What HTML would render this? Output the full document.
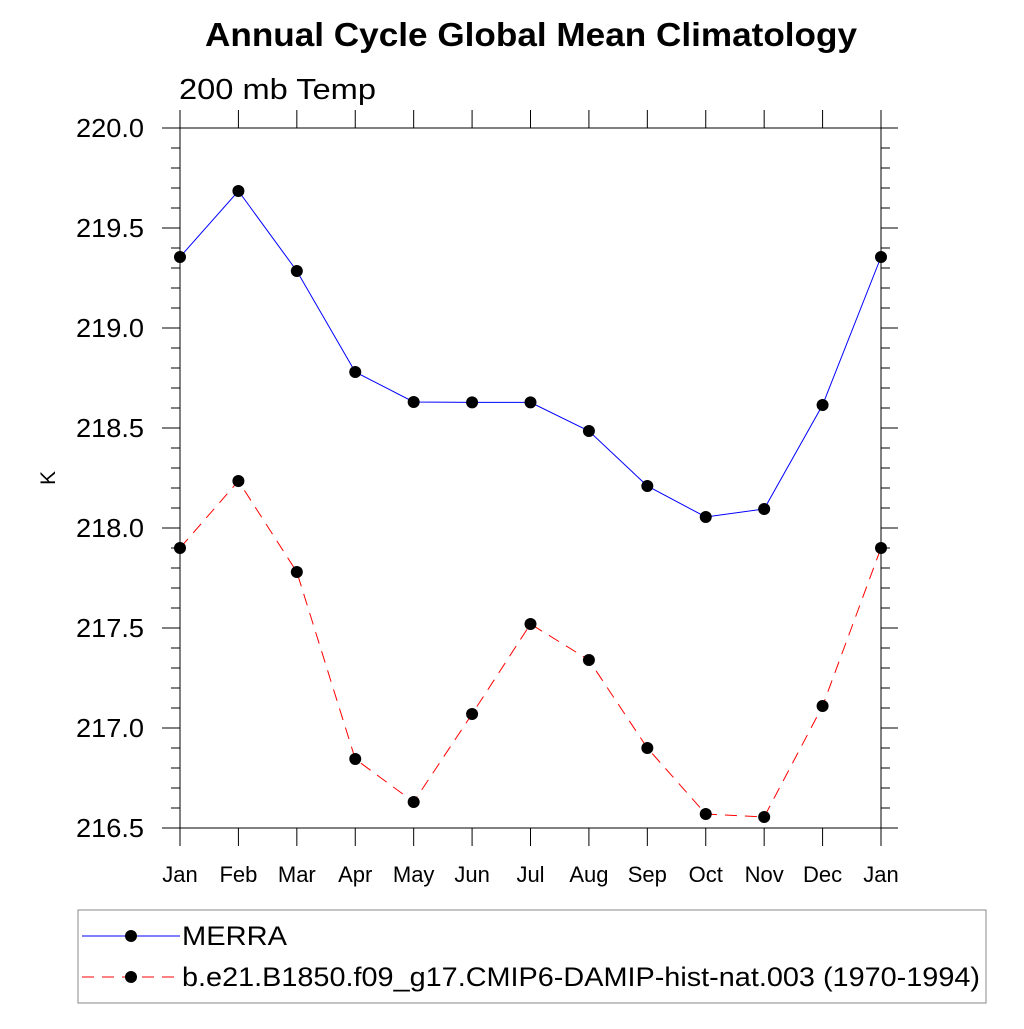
<!DOCTYPE html>
<html><head><meta charset="utf-8"><style>
body{margin:0;background:#fff}
svg{font-family:"Liberation Sans",sans-serif}
</style></head><body>
<svg id="c" width="1024" height="1024" viewBox="0 0 1024 1024">
<text x="205" y="46" textLength="652" lengthAdjust="spacingAndGlyphs" font-size="33" font-weight="bold">Annual Cycle Global Mean Climatology</text>
<text x="179" y="99" textLength="197" lengthAdjust="spacingAndGlyphs" font-size="29">200 mb Temp</text>
<text transform="translate(55,478) rotate(-90)" text-anchor="middle" font-size="21">K</text>
<g id="axes"></g><g id="series"></g>
<rect x="78" y="910" width="908" height="93" fill="none" stroke="#888" stroke-width="1"/>
<g>
<line x1="82" y1="936" x2="180" y2="936" stroke="#00f" stroke-width="1"/>
<circle cx="131" cy="936" r="6" fill="#000"/>
<text x="182" y="945" textLength="105" lengthAdjust="spacingAndGlyphs" font-size="27">MERRA</text></g>
<g>
<line x1="82" y1="977" x2="180" y2="977" stroke="#f00" stroke-width="1" stroke-dasharray="12,8"/>
<circle cx="131" cy="977" r="6" fill="#000"/>
<text x="182" y="986" textLength="798" lengthAdjust="spacingAndGlyphs" font-size="27">b.e21.B1850.f09_g17.CMIP6-DAMIP-hist-nat.003 (1970-1994)</text></g>
</svg>
<script>
const months=["Jan","Feb","Mar","Apr","May","Jun","Jul","Aug","Sep","Oct","Nov","Dec","Jan"];
const merra=[219.355,219.685,219.285,218.78,218.63,218.628,218.628,218.485,218.21,218.055,218.095,218.615,219.355];
const model=[217.90,218.235,217.78,216.845,216.63,217.07,217.52,217.34,216.90,216.57,216.555,217.11,217.90];
const yTicks=["216.5","217.0","217.5","218.0","218.5","219.0","219.5","220.0"];
const NS="http://www.w3.org/2000/svg";
const X=i=>180+i*(881-180)/12, Y=v=>828-(v-216.5)*200;
const ax=document.getElementById('axes'), se=document.getElementById('series');
function mk(p,t,a){const e=document.createElementNS(NS,t);for(const k in a)e.setAttribute(k,a[k]);p.appendChild(e);return e;}
let l;
l=mk(ax,'line',{x1:162,y1:128,x2:898,y2:128,stroke:'#000'});


l=mk(ax,'line',{x1:162,y1:828,x2:898,y2:828,stroke:'#000'});


l=mk(ax,'line',{x1:180,y1:110,x2:180,y2:846,stroke:'#000'});


l=mk(ax,'line',{x1:881,y1:110,x2:881,y2:846,stroke:'#000'});


months.forEach((m,i)=>{const x=X(i);
 if(i>0&&i<12){mk(ax,'line',{x1:x,y1:828,x2:x,y2:846,stroke:'#000'});mk(ax,'line',{x1:x,y1:110,x2:x,y2:128,stroke:'#000'});}
 const t=mk(ax,'text',{x:x,y:882,'text-anchor':'middle','font-size':22});t.textContent=m;
 
 
});
for(let k=0;k<=35;k++){const v=216.5+k*0.1,y=Y(v),maj=k%5==0;
 mk(ax,'line',{x1:maj?162:171,y1:y,x2:180,y2:y,stroke:'#000'});
 mk(ax,'line',{x1:881,y1:y,x2:maj?898:890,y2:y,stroke:'#000'});}
yTicks.forEach(s=>{const t=mk(ax,'text',{x:144,y:Y(+s)+9,'text-anchor':'end','font-size':26,textLength:68,lengthAdjust:'spacingAndGlyphs'});t.textContent=s;
 
 });
function draw(d,col,dash,name){
 const p=mk(se,'polyline',{points:d.map((v,i)=>X(i)+','+Y(v)).join(' '),fill:'none',stroke:col,'stroke-width':1,'stroke-dasharray':dash});
 
 
 d.forEach((v,i)=>{const c=mk(se,'circle',{cx:X(i),cy:Y(v),r:6,fill:'#000'});
  
  });
}
draw(merra,'#00f','none','merra');
draw(model,'#f00','12,8','model');
</script>
</body></html>
